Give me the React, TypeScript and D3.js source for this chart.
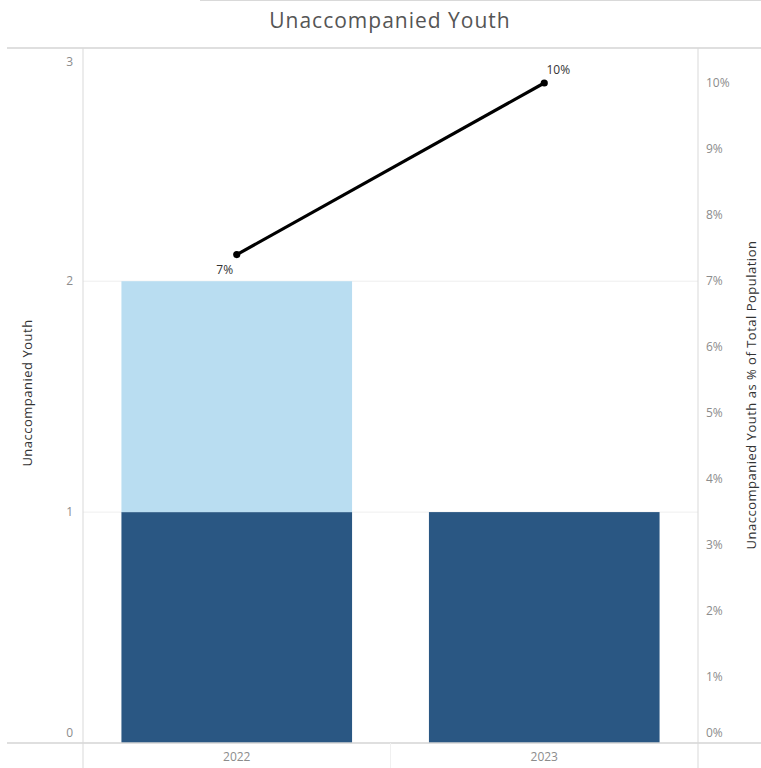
import React from "react";
import * as d3 from "d3";

const years = ["2022", "2023"];
const darkCounts = [1, 1];
const lightCounts = [1, 0];
const pctOfTotal = [0.074, 0.1];
const leftTicks = [0, 1, 2, 3];
const rightTicks = [0, 0.01, 0.02, 0.03, 0.04, 0.05, 0.06, 0.07, 0.08, 0.09, 0.1];
const pctLabels = ["7%", "10%"];

const W = 761;
const H = 768;
const plotLeft = 83;
const plotRight = 698;
const plotTop = 48;
const plotBottom = 743;
const FONT = "'Open Sans', 'Noto Sans', sans-serif";

export default function App() {
  const x = d3.scaleBand<string>().domain(years).range([plotLeft, plotRight]).paddingInner(0.25).paddingOuter(0.125);
  const xOuter = d3.scaleBand<string>().domain(years).range([plotLeft, plotRight]);
  const y = d3.scaleLinear().domain([0, 3.01]).range([plotBottom, plotTop]);
  const y2 = d3.scaleLinear().domain([0, 0.1053]).range([plotBottom, plotTop]);
  const fmt = d3.format(".0%");

  const line = d3
    .line<number>()
    .x((_, i) => (x(years[i]) as number) + x.bandwidth() / 2)
    .y((d) => y2(d));

  const leftLabelY = (t: number) => {
    if (t === 0) return y(t) - 10;
    if (t === 3) return y(t) + 11;
    return y(t);
  };
  const rightLabelY = (t: number) => {
    if (t === 0) return y2(t) - 10;
    return y2(t);
  };

  return (
    <svg width={W} height={H} style={{ position: "absolute", left: 0, top: 0, background: "#fff" }}>
      <line x1={200} x2={W} y1={0.5} y2={0.5} stroke="#d9d9d9" />
      <text x={390} y={28} textAnchor="middle" fontFamily={FONT} fontSize={21} letterSpacing={1} fill="#555">
        Unaccompanied Youth
      </text>
      {/* gridlines */}
      {[1, 2].map((t) => (
        <line key={t} x1={plotLeft} x2={plotRight} y1={y(t)} y2={y(t)} stroke="#efefef" />
      ))}
      {/* bars */}
      {years.map((yr, i) => (
        <g key={yr}>
          <rect x={x(yr)} width={x.bandwidth()} y={y(darkCounts[i])} height={y(0) - y(darkCounts[i])} fill="#2a5783" />
          {lightCounts[i] > 0 && (
            <rect
              x={x(yr)}
              width={x.bandwidth()}
              y={y(darkCounts[i] + lightCounts[i])}
              height={y(darkCounts[i]) - y(darkCounts[i] + lightCounts[i])}
              fill="#b9ddf1"
            />
          )}
        </g>
      ))}
      {/* frame lines */}
      <line x1={7} x2={W} y1={plotTop} y2={plotTop} stroke="#d4d4d4" strokeWidth={1.5} />
      <line x1={7} x2={W} y1={plotBottom} y2={plotBottom} stroke="#d4d4d4" strokeWidth={1.5} />
      <line x1={plotLeft} x2={plotLeft} y1={plotTop} y2={H} stroke="#d9d9d9" />
      <line x1={plotRight} x2={plotRight} y1={plotTop} y2={H} stroke="#d9d9d9" />
      <line
        x1={xOuter(years[1]) as number}
        x2={xOuter(years[1]) as number}
        y1={plotBottom}
        y2={H}
        stroke="#f0f0f0"
      />
      {/* line series */}
      <path d={line(pctOfTotal) || ""} fill="none" stroke="#000" strokeWidth={3.2} />
      {pctOfTotal.map((v, i) => {
        const cx = (x(years[i]) as number) + x.bandwidth() / 2;
        return <circle key={i} cx={cx} cy={y2(v)} r={3.6} fill="#000" />;
      })}
      <text
        x={(x(years[0]) as number) + x.bandwidth() / 2 - 12}
        y={y2(pctOfTotal[0]) + 19}
        textAnchor="middle"
        fontFamily={FONT}
        fontSize={12}
        fill="#333"
      >
        {pctLabels[0]}
      </text>
      <text
        x={(x(years[1]) as number) + x.bandwidth() / 2 + 14}
        y={y2(pctOfTotal[1]) - 9}
        textAnchor="middle"
        fontFamily={FONT}
        fontSize={12}
        fill="#333"
      >
        {pctLabels[1]}
      </text>
      {/* left ticks */}
      {leftTicks.map((t) => (
        <text key={t} x={73} y={leftLabelY(t)} dy="0.35em" textAnchor="end" fontFamily={FONT} fontSize={12} fill="#8c8c8c">
          {t}
        </text>
      ))}
      {/* right ticks */}
      {rightTicks.map((t) => (
        <text key={t} x={706} y={rightLabelY(t)} dy="0.35em" textAnchor="start" fontFamily={FONT} fontSize={12} fill="#8c8c8c">
          {fmt(t)}
        </text>
      ))}
      {/* x labels */}
      {years.map((yr) => (
        <text
          key={yr}
          x={(x(yr) as number) + x.bandwidth() / 2}
          y={757}
          dy="0.35em"
          textAnchor="middle"
          fontFamily={FONT}
          fontSize={12}
          fill="#8c8c8c"
        >
          {yr}
        </text>
      ))}
      {/* axis titles */}
      <text
        transform={`translate(32, 393) rotate(-90)`}
        textAnchor="middle"
        fontFamily={FONT}
        fontSize={13}
        letterSpacing={0.5}
        fill="#333"
      >
        Unaccompanied Youth
      </text>
      <text
        transform={`translate(756, 395) rotate(-90)`}
        textAnchor="middle"
        fontFamily={FONT}
        fontSize={13}
        letterSpacing={0.5}
        fill="#333"
      >
        Unaccompanied Youth as % of Total Population
      </text>
    </svg>
  );
}
